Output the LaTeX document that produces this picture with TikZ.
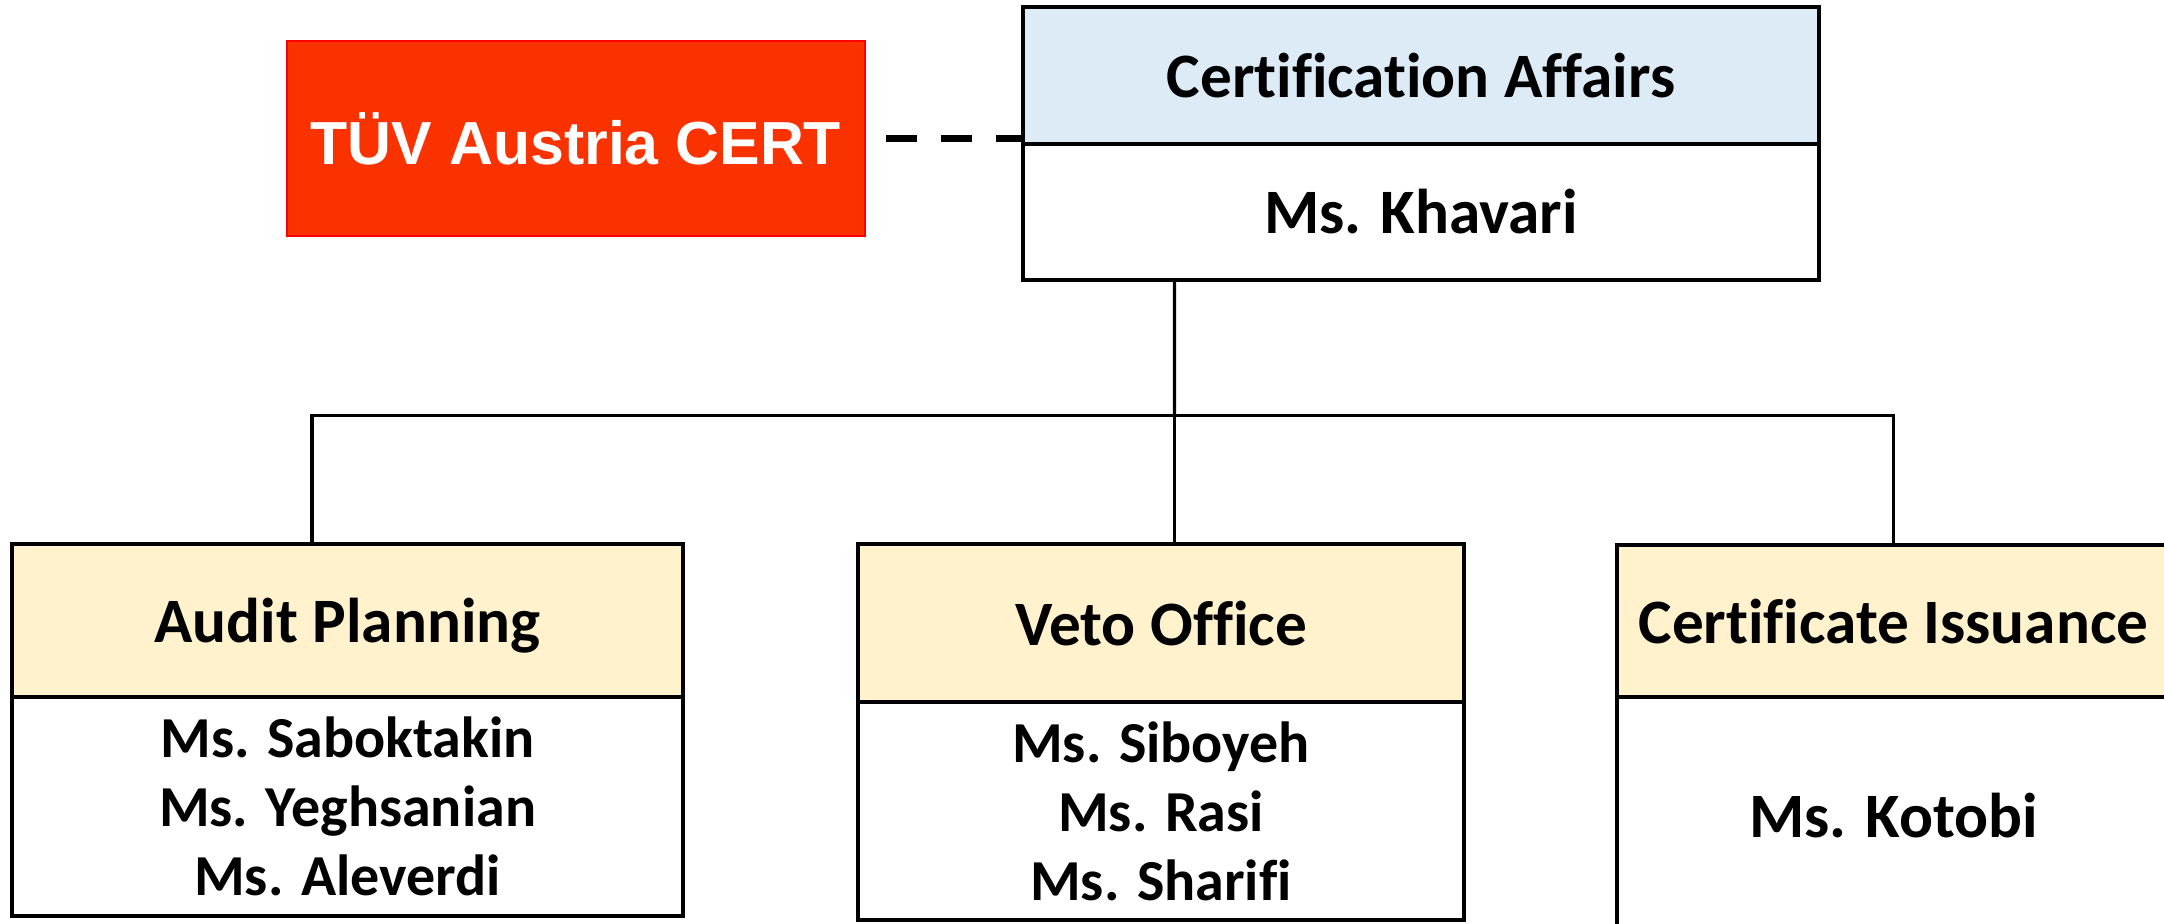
\documentclass[tikz,border=0pt]{standalone}
\usepackage{fontspec}
\setmainfont{Carlito}[Ligatures=NoCommon]
\newfontfamily\arialfont{Liberation Sans}
\usetikzlibrary{positioning}
\definecolor{certred}{HTML}{FA3200}
\definecolor{affairsblue}{HTML}{DDEBF7}
\definecolor{unitbeige}{HTML}{FFF2CC}
\begin{document}
\begin{tikzpicture}[
        box/.style={draw, line width=1.2pt, inner sep=0pt, outer sep=0pt, font=\bfseries\fontsize{18}{21.6}\selectfont},
        bluehead/.style={box, fill=affairsblue, text depth=0pt},
        unithead/.style={box, fill=unitbeige, text depth=0pt},
        staff/.style={box, align=center, font=\bfseries\fontsize{16.5}{19.6}\selectfont},
        link/.style={line width=0.9pt}
    ]
        \useasboundingbox (0,0) rectangle (21.64,9.23);

        \node[draw=red, line width=0.8pt, fill=certred, text=white, minimum width=5.78cm, minimum height=1.95cm,
            font=\arialfont\bfseries\fontsize{17.3}{20}\selectfont] (tuev) at (5.76,7.845) {TÜV Austria CERT};

        \node[bluehead, minimum width=7.96cm, minimum height=1.37cm] (affairs) at (14.21,8.475) {Certification Affairs};
        \node[box, minimum width=7.96cm, minimum height=1.36cm, below=0pt of affairs] (khavari) {Ms. Khavari};

        \node[unithead, minimum width=6.71cm, minimum height=1.53cm] (planning) at (3.475,3.025) {Audit Planning};
        \node[staff, minimum width=6.71cm, minimum height=2.19cm, below=0pt of planning] (planningstaff) {Ms. Saboktakin\\Ms. Yeghsanian\\Ms. Aleverdi};

        \node[unithead, minimum width=6.06cm, minimum height=1.58cm] (veto) at (11.61,3.0) {Veto Office};
        \node[staff, minimum width=6.06cm, minimum height=2.18cm, below=0pt of veto] (vetostaff) {Ms. Siboyeh\\Ms. Rasi\\Ms. Sharifi};

        \node[unithead, minimum width=5.53cm, minimum height=1.52cm] (issuance) at (18.935,3.02) {Certificate Issuance};
        \node[box, minimum width=5.53cm, minimum height=2.38cm, below=0pt of issuance] (issuancestaff) {Ms. Kotobi};

        \coordinate (bus) at (11.745,5.075);
        \draw[link] ([xshift=-2.465cm]khavari.south) -- (bus);
        \draw[link] ([xshift=-0.355cm]planning.north) |- (bus) -| (issuance.north);
        \draw[link] (bus) -- (veto.north -| bus);

        \draw[line width=2.2pt, dash pattern=on 0.31cm off 0.24cm] ([xshift=0.2cm]tuev.east) -- (tuev.east -| affairs.west);
    \end{tikzpicture}
\end{document}
